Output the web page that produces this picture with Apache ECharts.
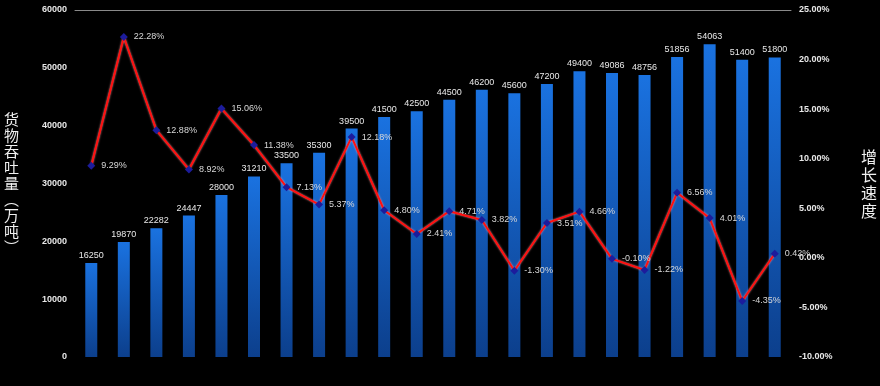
<!DOCTYPE html>
<html><head><meta charset="utf-8">
<script src="https://cdn.jsdelivr.net/npm/echarts@6/dist/echarts.min.js"></script>
<style>html,body{margin:0;padding:0;background:#000;}#c{width:880px;height:386px;}</style>
</head><body><div id="c"></div>
<script>
var categories = ['1','2','3','4','5','6','7','8','9','10','11','12','13','14','15','16','17','18','19','20','21','22'];
var throughput = [16250,19870,22282,24447,28000,31210,33500,35300,39500,41500,42500,44500,46200,45600,47200,49400,49086,48756,51856,54063,51400,51800];
var growth = [9.29,22.28,12.88,8.92,15.06,11.38,7.13,5.37,12.18,4.80,2.41,4.71,3.82,-1.30,3.51,4.66,-0.10,-1.22,6.56,4.01,-4.35,0.42];
var leftTicks = {min:0,max:60000,interval:10000};
var rightTicks = {min:-10,max:25,interval:5};

var chart = echarts.init(document.getElementById('c'));
var font = 'Liberation Sans';
chart.setOption({
  backgroundColor:'#000',
  animation:false,
  grid:{left:75,right:86,top:10,bottom:29},
  xAxis:[{type:'category',data:categories,axisLine:{show:false},axisTick:{show:false},axisLabel:{show:false}},
         {type:'category',position:'top',data:categories,axisLine:{show:true,onZero:false,lineStyle:{color:'#8a8a8a',width:1}},axisTick:{show:false},axisLabel:{show:false}}],
  yAxis:[{type:'value',min:leftTicks.min,max:leftTicks.max,interval:leftTicks.interval,
          splitLine:{show:false},axisLine:{show:false},axisTick:{show:false},
          axisLabel:{color:'#e8e8e8',fontSize:9,fontFamily:font,fontWeight:'bold',margin:8,
            formatter:function(v){return String(v);}},
          name:'货\n物\n吞\n吐\n量\n︵\n万\n吨\n︶',nameLocation:'middle',nameRotate:0,nameGap:56,
          nameTextStyle:{color:'#f0f0f0',fontSize:15,lineHeight:16,fontFamily:'Noto Sans CJK SC'}},
         {type:'value',min:rightTicks.min,max:rightTicks.max,interval:rightTicks.interval,
          splitLine:{show:false},axisLine:{show:false},axisTick:{show:false},
          axisLabel:{color:'#e8e8e8',fontSize:9,fontFamily:font,fontWeight:'bold',margin:8,
            formatter:function(v){return v.toFixed(2)+'%';}},
          name:'增\n长\n速\n度',nameLocation:'middle',nameRotate:0,nameGap:70,
          nameTextStyle:{color:'#f0f0f0',fontSize:16,lineHeight:18,fontFamily:'Noto Sans CJK SC'}}],
  series:[{
    type:'bar',data:throughput,barWidth:12,
    itemStyle:{color:new echarts.graphic.LinearGradient(0,0,0,1,[{offset:0,color:'#1a72e0'},{offset:1,color:'#0c3f8c'}])},
    label:{show:true,position:'top',color:'#e8e8e8',fontSize:9,fontFamily:font,distance:3}
  },{
    type:'line',yAxisIndex:1,data:growth,symbol:'diamond',symbolSize:8,
    lineStyle:{color:'#ff1010',width:2,shadowColor:'rgba(255,160,160,0.9)',shadowBlur:2},
    itemStyle:{color:'#1c1c9c',borderColor:'#3030c0',borderWidth:0},
    label:{show:true,position:'right',distance:6,color:'#d8d8d8',fontSize:9,fontFamily:font,
      formatter:function(p){return p.value.toFixed(2)+'%';}}
  }]
});
</script></body></html>
